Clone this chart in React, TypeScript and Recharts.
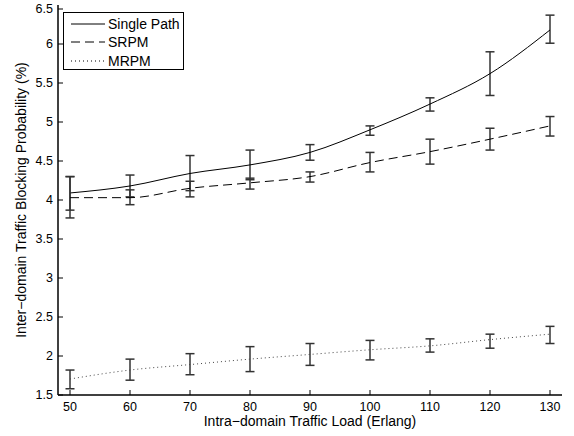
import React from 'react'
import { LineChart, Line, XAxis, YAxis, ErrorBar, Legend } from 'recharts'

// traffic load (Erlang)
const loads = [50, 60, 70, 80, 90, 100, 110, 120, 130]

const singlePath = [4.09, 4.18, 4.34, 4.45, 4.61, 4.9, 5.23, 5.62, 6.18]
const singlePathLow = [3.87, 4.04, 4.12, 4.26, 4.51, 4.83, 5.14, 5.34, 6.01]
const singlePathHigh = [4.3, 4.32, 4.57, 4.64, 4.71, 4.95, 5.31, 5.9, 6.37]

const srpm = [4.03, 4.03, 4.15, 4.22, 4.3, 4.48, 4.62, 4.78, 4.95]
const srpmLow = [3.77, 3.94, 4.04, 4.14, 4.23, 4.36, 4.46, 4.64, 4.82]
const srpmHigh = [4.3, 4.13, 4.24, 4.28, 4.36, 4.61, 4.78, 4.92, 5.07]

const mrpm = [1.705, 1.82, 1.89, 1.96, 2.02, 2.08, 2.13, 2.21, 2.28]
const mrpmLow = [1.58, 1.69, 1.76, 1.8, 1.88, 1.95, 2.05, 2.1, 2.16]
const mrpmHigh = [1.82, 1.96, 2.03, 2.12, 2.16, 2.2, 2.22, 2.28, 2.38]

const yTicks = [1.5, 2, 2.5, 3, 3.5, 4, 4.5, 5, 5.5, 6, 6.5]

const FONT = '"Liberation Sans", Arial, Helvetica, sans-serif'
const ERR_COLOR = '#333333'
const X_DOMAIN = [48, 132]
const Y_DOMAIN = [1.5, 6.5]
const TICK_LEN = 5
const X_GAP = 7
const Y_GAP = 5

const err = (v: number, lo: number, hi: number) => [+(v - lo).toFixed(3), +(hi - v).toFixed(3)]

const data = loads.map((load, i) => ({
  load,
  single: singlePath[i],
  singleErr: err(singlePath[i], singlePathLow[i], singlePathHigh[i]),
  srpm: srpm[i],
  srpmErr: err(srpm[i], srpmLow[i], srpmHigh[i]),
  mrpm: mrpm[i],
  mrpmErr: err(mrpm[i], mrpmLow[i], mrpmHigh[i]),
}))

const seriesStyle: Record<string, { dash?: string; label: string }> = {
  single: { label: 'Single Path' },
  srpm: { dash: '9 5', label: 'SRPM' },
  mrpm: { dash: '1 3', label: 'MRPM' },
}

const textProps = { fontSize: 12.5, fill: '#000', fontFamily: FONT }

// MATLAB style: tick marks point into the plot
function BottomTick({ x, y, payload }: any) {
  const axisY = y - X_GAP
  return (
    <g>
      <line x1={x} x2={x} y1={axisY} y2={axisY - TICK_LEN} stroke="#000" />
      <text x={x} y={y} dy="0.71em" textAnchor="middle" {...textProps}>
        {payload.value}
      </text>
    </g>
  )
}

function LeftTick({ x, y, payload }: any) {
  const axisX = x + Y_GAP
  return (
    <g>
      <line x1={axisX} x2={axisX + TICK_LEN} y1={y} y2={y} stroke="#000" />
      <text x={x} y={y} dy="0.355em" textAnchor="end" {...textProps}>
        {payload.value}
      </text>
    </g>
  )
}

function TopTick({ x, y }: any) {
  return <line x1={x} x2={x} y1={y} y2={y + TICK_LEN} stroke="#000" />
}

function RightTick({ x, y }: any) {
  return <line x1={x} x2={x - TICK_LEN} y1={y} y2={y} stroke="#000" />
}

function LegendBox() {
  return (
    <div
      style={{
        width: 121,
        height: 58,
        boxSizing: 'border-box',
        border: '1.5px solid #000',
        background: '#fff',
        paddingTop: 2,
        fontFamily: FONT,
        fontSize: 14,
      }}
    >
      {['single', 'srpm', 'mrpm'].map((k) => (
        <div key={k} style={{ display: 'flex', alignItems: 'center', height: 18.3 }}>
          <svg width={44} height={10} style={{ marginLeft: 7 }}>
            <line
              x1={0}
              y1={5}
              x2={34}
              y2={5}
              stroke="#000"
              strokeWidth={1}
              strokeDasharray={seriesStyle[k].dash}
            />
          </svg>
          <span style={{ marginLeft: -7 }}>{seriesStyle[k].label}</span>
        </div>
      ))}
    </div>
  )
}

export default function App() {
  return (
    <div style={{ position: 'absolute', left: 0, top: 0 }}>
      <LineChart width={574} height={436} data={data} margin={{ top: 5, right: 12, left: 0, bottom: 0 }}>
        <XAxis
          dataKey="load"
          type="number"
          domain={X_DOMAIN}
          ticks={loads}
          allowDataOverflow
          height={41}
          tickLine={false}
          tickSize={0}
          tickMargin={X_GAP}
          stroke="#000"
          strokeWidth={1.5}
          tick={BottomTick}
          label={{
            value: 'Intra\u2212domain Traffic Load (Erlang)',
            position: 'insideBottom',
            offset: 10,
            style: { fontSize: 14, fill: '#000', fontFamily: FONT },
          }}
        />
        <XAxis
          xAxisId="top"
          orientation="top"
          dataKey="load"
          type="number"
          domain={X_DOMAIN}
          ticks={loads}
          allowDataOverflow
          height={0}
          tickLine={false}
          tickSize={0}
          tickMargin={0}
          tick={TopTick}
          stroke="#000"
          strokeWidth={1.5}
        />
        <YAxis
          type="number"
          domain={Y_DOMAIN}
          ticks={yTicks}
          allowDataOverflow
          width={58}
          tickLine={false}
          tickSize={0}
          tickMargin={Y_GAP}
          stroke="#000"
          strokeWidth={1.5}
          tick={LeftTick}
          label={{
            value: 'Inter\u2212domain Traffic Blocking Probability (%)',
            angle: -90,
            position: 'insideLeft',
            offset: 21,
            style: { fontSize: 14, fill: '#000', fontFamily: FONT, textAnchor: 'middle' },
          }}
        />
        <YAxis
          yAxisId="right"
          orientation="right"
          type="number"
          domain={Y_DOMAIN}
          ticks={yTicks}
          allowDataOverflow
          width={0}
          tickLine={false}
          tickSize={0}
          tickMargin={0}
          tick={RightTick}
          stroke="#000"
          strokeWidth={1.5}
        />
        <Legend
          layout="vertical"
          align="center"
          verticalAlign="middle"
          content={() => <LegendBox />}
          wrapperStyle={{ position: 'absolute', left: 63, top: 12, width: 121, height: 58 }}
        />
        <Line
          type="monotone"
          dataKey="single"
          name="Single Path"
          stroke="#000"
          strokeWidth={1}
          dot={false}
          isAnimationActive={false}
        >
          <ErrorBar dataKey="singleErr" width={4.5} stroke={ERR_COLOR} strokeWidth={1.5} direction="y" />
        </Line>
        <Line
          type="monotone"
          dataKey="srpm"
          name="SRPM"
          stroke="#000"
          strokeWidth={1}
          strokeDasharray="9 5"
          dot={false}
          isAnimationActive={false}
        >
          <ErrorBar dataKey="srpmErr" width={4.5} stroke={ERR_COLOR} strokeWidth={1.5} direction="y" />
        </Line>
        <Line
          type="monotone"
          dataKey="mrpm"
          name="MRPM"
          stroke="#444"
          strokeWidth={1}
          strokeDasharray="1 3"
          dot={false}
          isAnimationActive={false}
        >
          <ErrorBar dataKey="mrpmErr" width={4.5} stroke={ERR_COLOR} strokeWidth={1.5} direction="y" />
        </Line>
      </LineChart>
    </div>
  )
}
